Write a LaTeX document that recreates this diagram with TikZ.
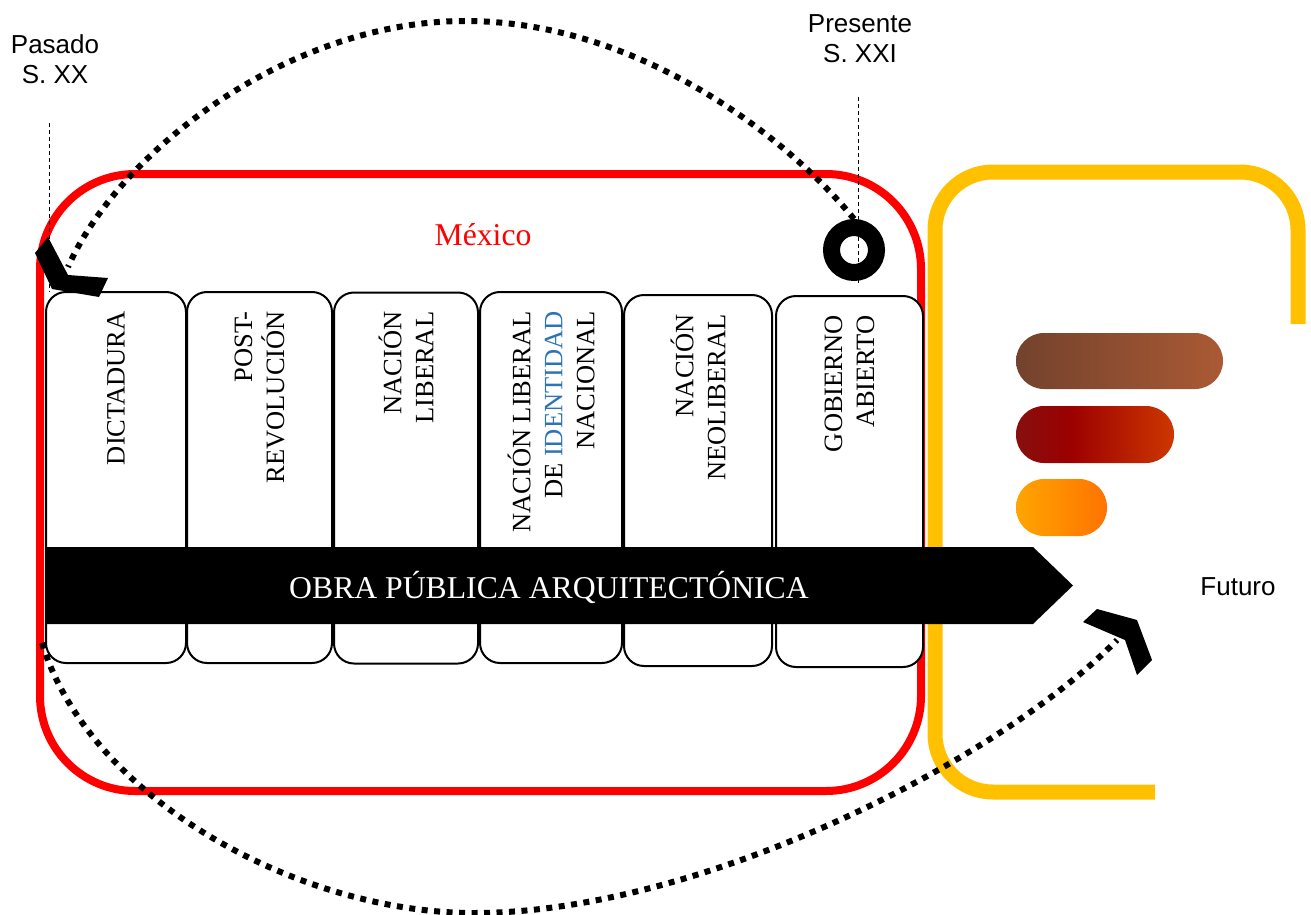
\documentclass[tikz,border=0pt]{standalone}
\usepackage{fontspec}
\setmainfont{Liberation Serif}
\setsansfont{Liberation Sans}
\usepackage{tikz}
\usetikzlibrary{positioning,calc}
\definecolor{rojomx}{RGB}{255,0,0}
\definecolor{amarillo}{RGB}{255,192,0}
\definecolor{azulid}{RGB}{46,116,181}
\definecolor{cafeA}{RGB}{115,66,45}
\definecolor{cafeB}{RGB}{170,90,52}
\definecolor{rojoA}{RGB}{135,15,15}
\definecolor{rojoB}{RGB}{155,0,0}
\definecolor{rojoC}{RGB}{205,55,0}
\definecolor{naranjaA}{RGB}{255,165,0}
\definecolor{naranjaB}{RGB}{255,115,0}
\pgfdeclarehorizontalshading{rojopill}{100bp}{color(0bp)=(rojoA); color(25bp)=(rojoA); color(42bp)=(rojoB); color(75bp)=(rojoC); color(100bp)=(rojoC)}

\begin{document}
\begin{tikzpicture}[x=1pt,y=-1pt,
periodo/.style={draw,line width=2pt,fill=white,rounded corners=20pt,minimum width=#1,minimum height=371pt,inner sep=0pt},
etiqueta/.style={rotate=90,anchor=east,align=right,inner sep=0pt,font=\fontsize{26.5}{32}\selectfont},
tiempo/.style={align=center,inner sep=0pt,font=\sffamily\fontsize{26}{30}\selectfont},
punteado/.style={line width=6pt,dash pattern=on 6pt off 6.5pt},
guia/.style={line width=1pt,dash pattern=on 4pt off 3pt}]
\useasboundingbox (0,0) rectangle (1311,915);
% Mexico
\draw[rojomx,line width=8pt,rounded corners=95pt] (40,174) rectangle (921,791);
\node[text=rojomx,anchor=base,font=\fontsize{31.7}{38}\selectfont] (mexico) at (483,245) {México};
% futuro
\draw[amarillo,line width=15pt,rounded corners=58pt] (1155,792) -- (935,792) -- (935,172) -- (1298,172) -- (1298,324);
\begin{scope}
\node[periodo=140pt] (p1) at (116,477.5) {};
\node[periodo=145pt] (p2) at (259.5,477.5) {};
\node[periodo=144pt] (p3) at (406,478) {};
\node[periodo=142pt] (p4) at (551,477.5) {};
\node[periodo=148pt] (p5) at (698,480.5) {};
\node[periodo=147pt] (p6) at (849.5,481.5) {};
\end{scope}
\fill (46,547) -- (1033,547) -- (1073,585.5) -- (1033,624) -- (46,624) -- cycle;
\node[text=white,anchor=base,font=\fontsize{31.7}{38}\selectfont] (obra) at (549,598) {OBRA PÚBLICA ARQUITECTÓNICA};
\begin{scope}
\node[etiqueta] (e1) at ([yshift=-20pt]p1.north) {DICTADURA};
\node[etiqueta] (e2) at ([yshift=-20pt]p2.north) {POST-\\REVOLUCIÓN};
\node[etiqueta] (e3) at ([yshift=-20pt]p3.north) {NACIÓN\\LIBERAL};
\node[etiqueta] (e4) at ([yshift=-20pt]p4.north) {NACIÓN LIBERAL\\DE \textcolor{azulid}{IDENTIDAD}\\NACIONAL};
\node[etiqueta] (e5) at ([yshift=-20pt]p5.north) {NACIÓN\\NEOLIBERAL};
\node[etiqueta] (e6) at ([yshift=-20pt]p6.north) {GOBIERNO\\ABIERTO};
\end{scope}
\node[circle,draw,line width=17pt,minimum size=45pt,inner sep=0pt] (anillo) at (854,250) {};
\node[tiempo,anchor=north] (pasado) at (55,34) {Pasado\\S. XX};
\node[tiempo,anchor=north] (presente) at (860,14) {Presente\\S. XXI};
\node[tiempo,anchor=base] (futuro) at (1238,595) {Futuro};
\coordinate (g1) at (49,123);
\coordinate (g2) at (49,292);
\coordinate (g3) at (858,97);
\coordinate (g4) at (858,283);
\draw[guia] (g1) -- (g2);
\draw[guia] (g3) -- (g4);
% recorridos
\coordinate (finpasado) at (68,267);
\coordinate (inicio) at (42,643);
\coordinate (finfuturo) at (1117,640);
\draw[punteado] (anillo.north) .. controls (790,140) and (640,21) .. (465,21) .. controls (290,21) and (120,150) .. (finpasado);
\draw[punteado] (inicio) .. controls (90,800) and (300,913) .. (474,913) .. controls (700,913) and (1000,760) .. (finfuturo);
\fill (35,253) -- (48,237) -- (68,275) -- (108,278) -- (99,297) -- (52,289) -- cycle;
\fill (1083,622) -- (1097,609) -- (1137,620) -- (1152,660) -- (1137,675) -- (1125,640) -- cycle;
% barras
\shade[left color=cafeA,right color=cafeB,rounded corners=28pt] (1016,333) rectangle (1223,389);
\shade[shading=rojopill,rounded corners=28pt] (1016,406) rectangle (1174,463);
\shade[left color=naranjaA,right color=naranjaB,rounded corners=28pt] (1016,479) rectangle (1107,536);
\end{tikzpicture}
\end{document}
